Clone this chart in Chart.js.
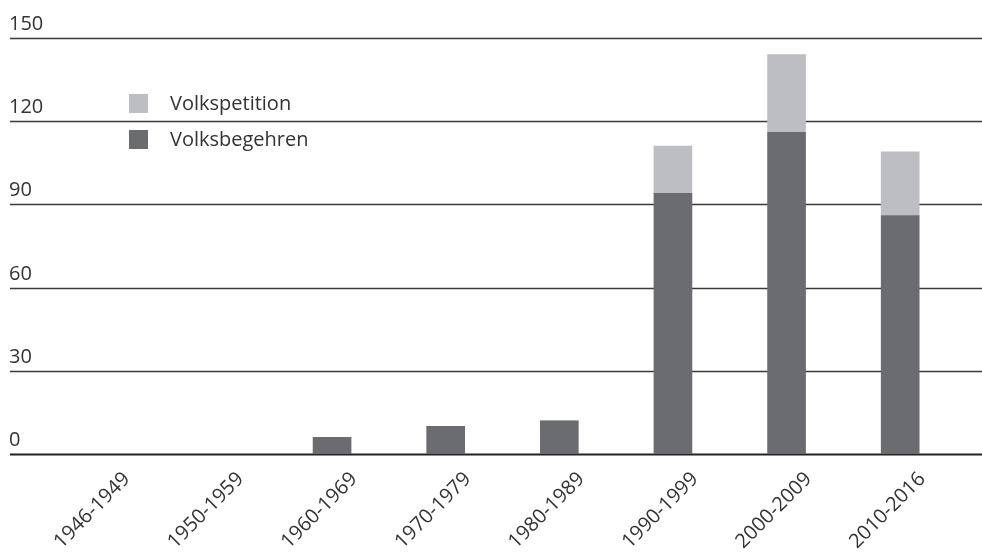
<!DOCTYPE html>
<html>
<head>
<meta charset="utf-8">
<script src="https://cdn.jsdelivr.net/npm/chart.js@4"></script>
<style>
  body { margin: 0; background: #fff; }
  #wrap { width: 982px; height: 553px; position: relative; }
</style>
</head>
<body>
<div id="wrap"><canvas id="chart"></canvas></div>
<script>
// Zeiträume und Werte
const zeitraeume = ['1946-1949', '1950-1959', '1960-1969', '1970-1979', '1980-1989', '1990-1999', '2000-2009', '2010-2016'];
const volksbegehren = [0, 0, 6, 10, 12, 94, 116, 86];
const volkspetition = [0, 0, 0, 0, 0, 17, 28, 23];
const yTicks = [0, 30, 60, 90, 120, 150];

const dunkel = '#6b6c70';
const hell = '#bdbec1';
const textFarbe = '#333333';
const schrift = '"Open Sans", "Liberation Sans", sans-serif';

// Gitterlinien + Beschriftung über die ganze Breite
const gitter = {
    id: 'gitter',
    beforeDatasetsDraw(chart) {
        const ctx = chart.ctx;
        const y = chart.scales.y;
        ctx.save();
        ctx.font = '20px ' + schrift;
        ctx.fillStyle = textFarbe;
        ctx.textAlign = 'left';
        ctx.textBaseline = 'alphabetic';
        yTicks.forEach(v => {
            const py = Math.round(y.getPixelForValue(v)) + 0.5;
            ctx.strokeStyle = v === 0 ? '#222' : '#3a3a3a';
            ctx.lineWidth = v === 0 ? 2 : 1.3;
            ctx.beginPath();
            ctx.moveTo(10, py);
            ctx.lineTo(chart.width, py);
            ctx.stroke();
            ctx.fillText(String(v), 9, py - 9);
        });
        ctx.restore();
    }
};

// schräge Beschriftung der Zeiträume
const xBeschriftung = {
    id: 'xBeschriftung',
    afterDraw(chart) {
        const ctx = chart.ctx;
        const x = chart.scales.x;
        const y0 = chart.scales.y.getPixelForValue(0);
        ctx.save();
        ctx.font = '20px ' + schrift;
        ctx.fillStyle = textFarbe;
        ctx.textAlign = 'right';
        ctx.textBaseline = 'middle';
        zeitraeume.forEach((lab, i) => {
            ctx.save();
            ctx.translate(x.getPixelForValue(i) + 22, y0 + 22);
            ctx.rotate(-Math.PI / 4);
            ctx.fillText(lab, 0, 0);
            ctx.restore();
        });
        ctx.restore();
    }
};

// Legende innerhalb der Grafik
const legende = {
    id: 'legende',
    afterDraw(chart) {
        const ctx = chart.ctx;
        const ds = chart.data.datasets.slice().reverse();
        ctx.save();
        ctx.font = '20px ' + schrift;
        ctx.textBaseline = 'middle';
        ds.forEach((d, i) => {
            const top = 94 + i * 36;
            ctx.fillStyle = d.backgroundColor;
            ctx.fillRect(129, top, 19, 19);
            ctx.fillStyle = textFarbe;
            ctx.fillText(d.label, 170, top + 10);
        });
        ctx.restore();
    }
};

const ctx = document.getElementById('chart').getContext('2d');
const chart = new Chart(ctx, {
    type: 'bar',
    data: {
        labels: zeitraeume,
        datasets: [
            { label: 'Volksbegehren', data: volksbegehren, backgroundColor: dunkel, barThickness: 38 },
            { label: 'Volkspetition', data: volkspetition, backgroundColor: hell, barThickness: 38 }
        ]
    },
    options: {
        responsive: true,
        maintainAspectRatio: false,
        animation: false,
        layout: { padding: { left: 48, right: 25, top: 38, bottom: 0 } },
        plugins: { legend: { display: false }, tooltip: { enabled: false } },
        scales: {
            x: {
                stacked: true,
                grid: { display: false },
                border: { display: false },
                ticks: { display: false },
                afterFit(scale) { scale.height = 99; }
            },
            y: {
                stacked: true,
                display: false,
                min: 0,
                max: 150
            }
        }
    },
    plugins: [gitter, xBeschriftung, legende]
});
</script>
</body>
</html>
